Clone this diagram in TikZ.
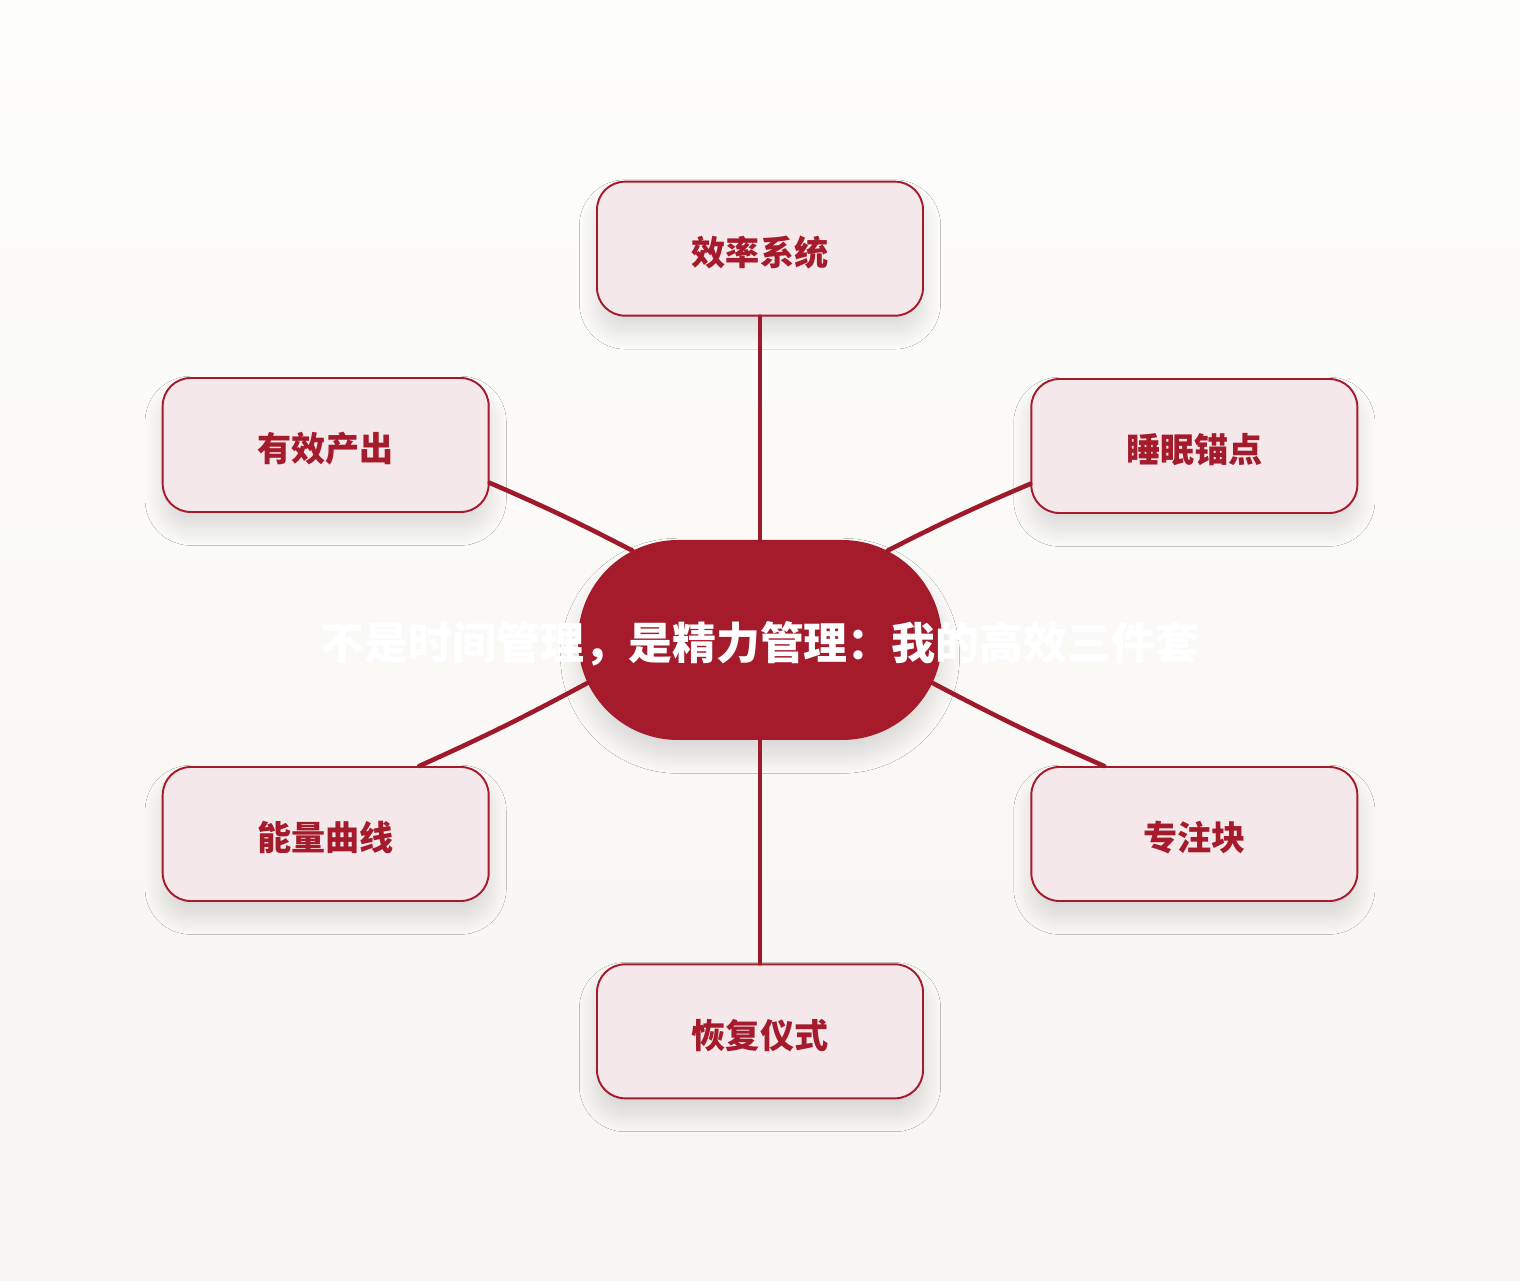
\documentclass[tikz,border=0pt]{standalone}
\usepackage{fontspec}
\setmainfont{Noto Sans CJK SC}
\usepackage{xcolor}
\usetikzlibrary{positioning, shapes.misc, shadows.blur}

\definecolor{hubred}{HTML}{A51B2B}
\definecolor{linered}{HTML}{9E1A2A}
\definecolor{boxfill}{HTML}{F5E8EB}
\definecolor{bgtop}{HTML}{FDFDFC}
\definecolor{bgbot}{HTML}{F7F5F1}

\begin{document}
\begin{tikzpicture}[
  soft/.style={blur shadow={shadow xshift=0pt, shadow yshift=-9pt, shadow blur radius=10pt, shadow blur steps=25, shadow opacity=13}},
  hub/.style={rounded rectangle, fill=hubred, draw=none, soft, minimum width=7.28cm, minimum height=4cm, inner sep=0pt, text height=23pt, text depth=1pt, text=white, font=\fontsize{25}{28}\selectfont\bfseries},
  topic/.style={draw=hubred, line width=1.1pt, fill=boxfill, rounded corners=0.56cm, soft, minimum width=6.52cm, minimum height=2.68cm, text height=20pt, text depth=1pt, text=hubred, font=\fontsize{19.4}{22}\selectfont\bfseries},
  link/.style={draw=linered, line width=2.6pt, line cap=round}
]

% Background
\shade[top color=bgtop, bottom color=bgbot] (0,0) rectangle (30.4,25.6);
\useasboundingbox (0,0) rectangle (30.4,25.6);

% Centre
\node[hub] (hub) at (15.2,12.8) {\makebox[0pt]{不是时间管理，是精力管理：我的高效三件套}};

% Top and bottom
\node[topic, above=4.46cm of hub] (system) {效率系统};
\node[topic, below=4.46cm of hub] (ritual) {恢复仪式};

% Left column
\node[topic, left=1.76cm of hub, yshift=3.9cm] (output) {有效产出};
\node[topic, left=1.76cm of hub, yshift=-3.88cm] (curve) {能量曲线};

% Right column
\node[topic, right=1.76cm of hub, yshift=3.88cm] (sleep) {睡眠锚点};
\node[topic, right=1.76cm of hub, yshift=-3.88cm] (focus) {专注块};

% Connections
\draw[link] (hub.north) -- (system.south);
\draw[link] (hub.south) -- (ritual.north);
\draw[link] (hub.145.6) to[bend right=2] (output.-13);
\draw[link] (hub.35.1) to[bend left=2] (sleep.193.5);
\draw[link] (hub.194.4) to[bend left=2] (curve.36.4);
\draw[link] (hub.-14.4) to[bend right=2] (focus.143.8);

\end{tikzpicture}
\end{document}
